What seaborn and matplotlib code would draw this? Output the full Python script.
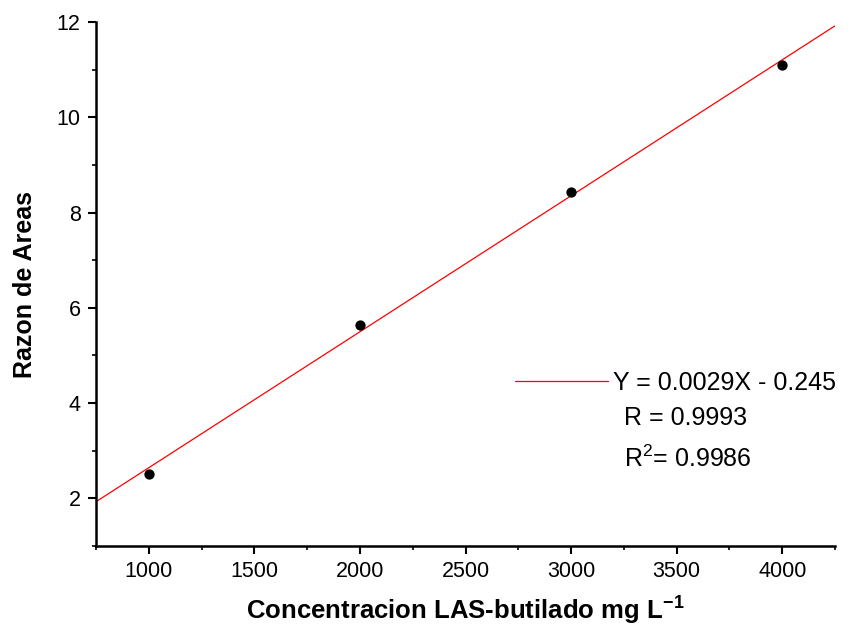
import matplotlib
matplotlib.use("Agg")
import matplotlib.pyplot as plt
import seaborn as sns
import numpy as np
import pandas as pd
from matplotlib.ticker import MultipleLocator

concentration = [1000, 2000, 3000, 4000]
area_ratio = [2.52, 5.64, 8.44, 11.10]
x_ticks = [1000, 1500, 2000, 2500, 3000, 3500, 4000]
y_ticks = [2, 4, 6, 8, 10, 12]
eq_label = "Y = 0.0029X - 0.245"
r_label = "R = 0.9993"
r2_label = "R$^{2}$= 0.9986"

df = pd.DataFrame({"x": concentration, "y": area_ratio})

sns.set_style("ticks")
plt.rcParams['font.family'] = ['Liberation Sans', 'DejaVu Sans']
plt.rcParams['mathtext.fontset'] = 'custom'
plt.rcParams['mathtext.rm'] = 'Liberation Sans'
plt.rcParams['mathtext.bf'] = 'Liberation Sans:bold'
plt.rcParams['text.color'] = 'black'
plt.rcParams['axes.labelcolor'] = 'black'

fig = plt.figure(figsize=(8.62, 6.3), dpi=100)
ax = fig.add_axes([0.1114, 0.1333, 0.8573, 0.8318])
ax.set_xlim(750, 4250)
ax.set_ylim(1, 12)

sns.regplot(data=df, x="x", y="y", ax=ax, ci=None, truncate=False,
            scatter_kws=dict(color="black", s=55, alpha=1, edgecolor="black", linewidths=0, zorder=3),
            line_kws=dict(color="red", lw=0.9, label=eq_label))

ax.set_xlim(750, 4250)
ax.set_ylim(1, 12)
ax.set_xticks(x_ticks)
ax.set_yticks(y_ticks)
ax.xaxis.set_minor_locator(MultipleLocator(250))
ax.yaxis.set_minor_locator(MultipleLocator(1))
ax.tick_params(which="major", direction="out", length=6, width=1.5, labelsize=15.5, colors="black", pad=5)
ax.tick_params(which="minor", direction="out", length=3, width=1.2, colors="black")
for s in ["left", "bottom"]:
    ax.spines[s].set_linewidth(1.8)
    ax.spines[s].set_color("black")
sns.despine(ax=ax)

ax.set_xlabel("Concentracion LAS-butilado mg L$^{\\mathbf{-1}}$", fontsize=18.5, fontweight="bold", labelpad=8)
ax.set_ylabel("Razon de Areas", fontsize=18, fontweight="bold", labelpad=14)

leg = ax.legend(loc="center left", bbox_to_anchor=(0.567, 0.311), frameon=False,
                fontsize=18, handlelength=3.7, handletextpad=0.2, borderpad=0, borderaxespad=0)
ax.text(0.714, 0.244, r_label, transform=ax.transAxes, fontsize=18, va="center", ha="left")
ax.text(0.714, 0.166, r2_label, transform=ax.transAxes, fontsize=18, va="center", ha="left")

fig.savefig("out.png", dpi=100)
